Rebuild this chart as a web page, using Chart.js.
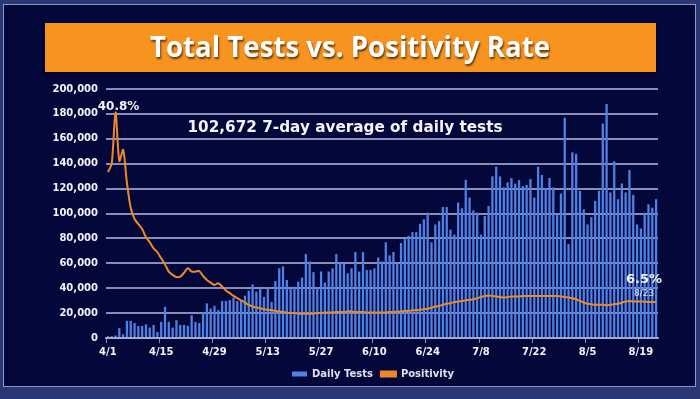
<!DOCTYPE html>
<html>
<head>
<meta charset="utf-8">
<script src="https://cdn.jsdelivr.net/npm/chart.js@4.4.1/dist/chart.umd.min.js"></script>
<style>
  html, body { margin: 0; padding: 0; background: #26336e; }
  #wrap { position: relative; width: 700px; height: 399px; }
  canvas { display: block; }
</style>
</head>
<body>
<div id="wrap"><canvas id="chart" width="700" height="399"></canvas></div>
<script>
// months shown on the axis, and how many days of each are in the data (4/1 .. 8/23)
var months = [4, 5, 6, 7, 8];
var monthDays = [30, 31, 30, 31, 23];

var dailyTests = [
    1500, 1500, 2000, 8000, 3000, 13800, 13800, 12000, 9700, 9700,
    11000, 8400, 10500, 4800, 13000, 25000, 13000, 8400, 14300, 10500,
    10500, 9700, 18300, 13000, 12000, 20500, 27800, 23700, 25900, 22400,
    29700, 29700, 30500, 32400, 29700, 30000, 34000, 38000, 43000, 37200,
    41200, 33000, 39900, 29000, 45800, 56000, 57500, 46600, 41200, 41200,
    45300, 48500, 67400, 61500, 52900, 40400, 53400, 44500, 53400, 56000,
    67400, 60000, 60000, 52000, 56000, 69000, 53400, 69000, 54700, 54700,
    56000, 64700, 61500, 76900, 66400, 69100, 60000, 76300, 80400, 82000,
    85000, 85000, 91700, 95300, 100600, 76900, 91200, 93900, 105200, 105200,
    87100, 83100, 108800, 104200, 127100, 112800, 102500, 100600, 83100, 98000,
    106000, 129800, 137600, 129800, 121000, 125000, 128500, 124000, 126800, 122000,
    123000, 127600, 112800, 137600, 130900, 120400, 128500, 120900, 99300, 116000,
    177000, 75500, 149200, 147900, 118200, 103400, 91200, 97100, 110100, 118200,
    172200, 187900, 116900, 142000, 111500, 124100, 116900, 134900, 115000, 91200,
    88000, 100600, 107400, 104700, 111500
];

var positivity = [
    30.0, 31.5, 40.8, 32.0, 34.0, 28.0, 23.5, 21.5, 20.6, 19.7,
    18.2, 17.3, 16.2, 15.5, 14.4, 13.3, 12.0, 11.4, 11.0, 11.1,
    11.8, 12.6, 12.0, 12.0, 12.1, 11.2, 10.5, 10.0, 9.6, 9.9,
    9.3, 8.6, 8.1, 7.6, 7.2, 6.8, 6.4, 6.0, 5.7, 5.5,
    5.4, 5.2, 5.1, 5.0, 4.9, 4.8, 4.7, 4.6, 4.5, 4.5,
    4.4, 4.4, 4.4, 4.4, 4.4, 4.5, 4.5, 4.6, 4.6, 4.6,
    4.7, 4.7, 4.7, 4.8, 4.8, 4.7, 4.7, 4.7, 4.6, 4.6,
    4.6, 4.6, 4.6, 4.6, 4.7, 4.7, 4.8, 4.8, 4.9, 4.9,
    5.0, 5.0, 5.1, 5.2, 5.3, 5.5, 5.7, 5.8, 6.0, 6.2,
    6.3, 6.5, 6.6, 6.7, 6.8, 6.9, 7.0, 7.2, 7.4, 7.6,
    7.7, 7.6, 7.5, 7.4, 7.3, 7.4, 7.5, 7.5, 7.5, 7.6,
    7.6, 7.6, 7.6, 7.6, 7.6, 7.6, 7.6, 7.6, 7.6, 7.5,
    7.4, 7.3, 7.2, 7.0, 6.7, 6.4, 6.2, 6.1, 6.0, 6.0,
    6.0, 5.9, 6.0, 6.1, 6.2, 6.4, 6.6, 6.7, 6.6, 6.6,
    6.6, 6.6, 6.5, 6.5, 6.5
];

var yTicks = [0, 20000, 40000, 60000, 80000, 100000, 120000, 140000, 160000, 180000, 200000];
var tickEvery = 14;

var labels = [];
for (var m = 0; m < months.length; m++) {
    for (var d = 1; d <= monthDays[m]; d++) {
        labels.push(months[m] + '/' + d);
    }
}

var gridColor = 'rgba(170,178,215,0.8)';
var textColor = '#f2f3fa';

// slide frame, orange banner and the callouts
var slidePlugin = {
    id: 'slide',
    afterLayout: function(chart) {
        // centre the legend under the plot rather than the whole canvas
        chart.legend.left = 88;
        chart.legend.right = 658;
    },
    beforeDraw: function(chart) {
        var c = chart.ctx;
        c.save();
        c.fillStyle = '#2a3775';
        c.fillRect(0, 0, 700, 399);
        c.fillStyle = '#04073a';
        c.fillRect(4, 5, 691, 381);
        c.strokeStyle = '#8f97c4';
        c.lineWidth = 1;
        c.strokeRect(3.5, 4.5, 692, 382);

        c.fillStyle = '#f7931f';
        c.shadowColor = 'rgba(0,0,0,0.5)';
        c.shadowOffsetY = 2;
        c.shadowBlur = 3;
        c.fillRect(45, 23, 611, 49);
        c.shadowColor = 'rgba(0,0,0,0.6)';
        c.shadowOffsetX = 1;
        c.shadowOffsetY = 2;
        c.shadowBlur = 2;
        c.fillStyle = '#ffffff';
        c.font = 'bold 29px "Open Sans"';
        c.textAlign = 'center';
        c.textBaseline = 'middle';
        var title = 'Total Tests vs. Positivity Rate';
        var w = c.measureText(title).width;
        c.translate(350, 49);
        c.scale(400 / w, 1);
        c.fillText(title, 0, 0);
        c.restore();
    },
    afterDraw: function(chart) {
        var c = chart.ctx;
        var xs = chart.scales.x, ys = chart.scales.y2;
        var last = positivity.length - 1;
        c.save();
        c.fillStyle = textColor;
        c.textAlign = 'center';
        c.textBaseline = 'alphabetic';

        var px = xs.getPixelForValue(2), py = ys.getPixelForValue(positivity[2]);
        c.font = 'bold 12px "DejaVu Sans"';
        c.fillText(positivity[2].toFixed(1) + '%', px + 3, py - 2);

        px = xs.getPixelForValue(last);
        py = ys.getPixelForValue(positivity[last]);
        c.font = 'bold 13px "DejaVu Sans"';
        c.fillText(positivity[last].toFixed(1) + '%', px - 12, py - 19);
        c.font = '9px "DejaVu Sans"';
        c.fillStyle = '#dde1f4';
        c.fillText(labels[last], px - 12, py - 6);

        c.fillStyle = textColor;
        c.font = 'bold 15px "DejaVu Sans"';
        c.textBaseline = 'middle';
        var sub = '102,672 7-day average of daily tests';
        var w = c.measureText(sub).width;
        c.translate(345, 128);
        c.scale(315 / w, 1);
        c.fillText(sub, 0, 0);
        c.restore();
    }
};

var ctx = document.getElementById('chart');
var chart = new Chart(ctx, {
    type: 'bar',
    data: {
        labels: labels,
        datasets: [{
            type: 'line',
            label: 'Positivity',
            data: positivity,
            yAxisID: 'y2',
            borderColor: '#ec8a2a',
            backgroundColor: '#ec8a2a',
            borderWidth: 2,
            pointRadius: 0,
            tension: 0.3,
            order: 0
        }, {
            label: 'Daily Tests',
            data: dailyTests,
            yAxisID: 'y',
            backgroundColor: '#4f80e4',
            borderWidth: 0,
            categoryPercentage: 1,
            barPercentage: 0.6,
            order: 1
        }]
    },
    options: {
        responsive: false,
        animation: false,
        layout: { padding: { top: 89, left: 0, right: 42, bottom: 10 } },
        plugins: {
            legend: {
                position: 'bottom',
                reverse: true,
                labels: {
                    color: '#dfe2f0',
                    font: { family: '"DejaVu Sans"', size: 10, weight: 'bold' },
                    boxWidth: 15,
                    boxHeight: 5,
                    padding: 8
                }
            },
            tooltip: { enabled: false }
        },
        scales: {
            x: {
                grid: {
                    drawOnChartArea: false,
                    drawTicks: true,
                    tickLength: 5,
                    color: function(c) { return c.index % tickEvery === 0 ? gridColor : 'transparent'; }
                },
                border: { display: true, color: gridColor, width: 2 },
                ticks: {
                    autoSkip: false,
                    maxRotation: 0,
                    padding: 3,
                    color: textColor,
                    font: { family: '"DejaVu Sans"', size: 10, weight: 'bold' },
                    callback: function(v, i) { return i % tickEvery === 0 ? labels[i] : ''; }
                }
            },
            y: {
                z: 1,
                min: yTicks[0],
                max: yTicks[yTicks.length - 1],
                afterBuildTicks: function(s) { s.ticks = yTicks.map(function(v) { return { value: v }; }); },
                afterFit: function(s) { s.width = 106; },
                grid: { color: gridColor, lineWidth: 2, drawTicks: false },
                border: { display: false },
                ticks: {
                    padding: 8,
                    color: textColor,
                    font: { family: '"DejaVu Sans"', size: 10, weight: 'bold' },
                    callback: function(v) { return v.toLocaleString('en-US'); }
                }
            },
            y2: {
                display: false,
                min: 0,
                max: 45
            }
        }
    },
    plugins: [slidePlugin]
});
</script>
</body>
</html>
